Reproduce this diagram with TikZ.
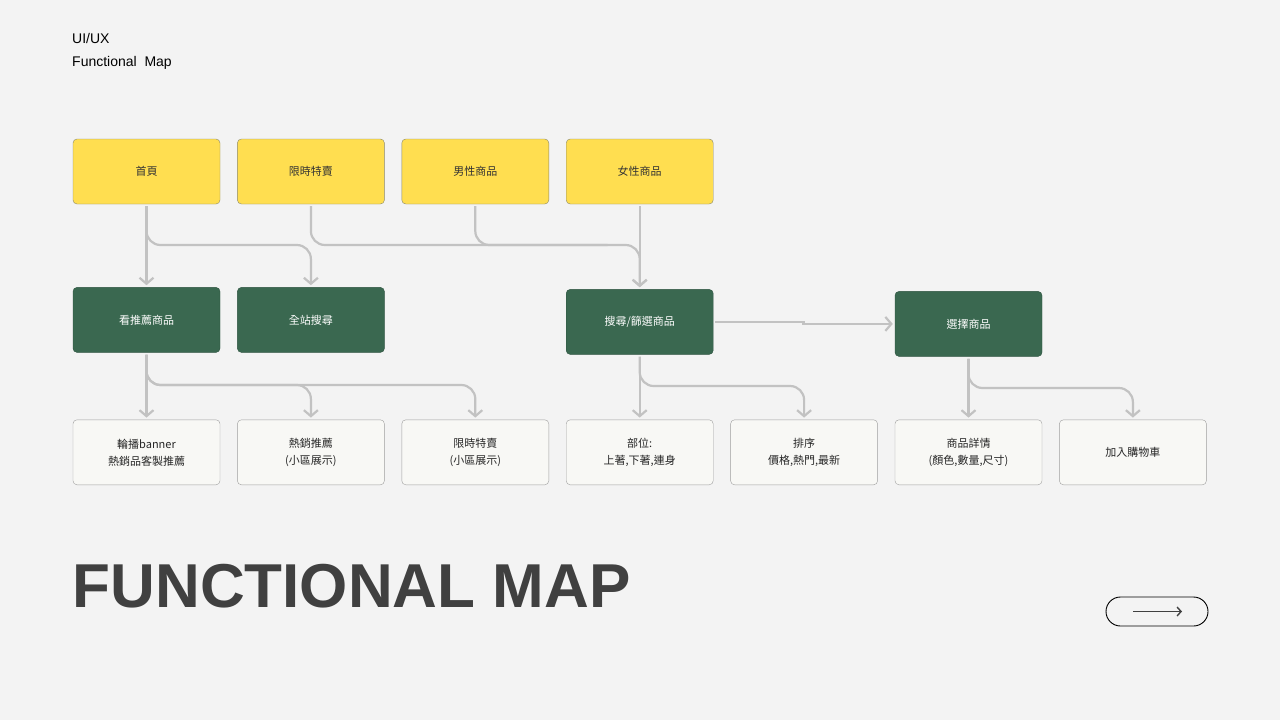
\documentclass[tikz,border=0pt]{standalone}
\usepackage{fontspec}
\setmainfont{Liberation Sans}
\newfontfamily\cjk{Noto Sans CJK TC}
\usepackage{tikz}
\usetikzlibrary{positioning, arrows.meta}
\definecolor{bg}{HTML}{F3F3F3}
\definecolor{topfill}{HTML}{FFDE50}
\definecolor{topline}{HTML}{8A886A}
\definecolor{actfill}{HTML}{3A6850}
\definecolor{leaffill}{HTML}{F8F8F5}
\definecolor{leafline}{HTML}{9E9E9E}
\definecolor{linkgray}{HTML}{C2C2C2}
\definecolor{ink}{HTML}{404040}
\tikzset{
box/.style={rounded corners=4pt, minimum width=147pt, minimum height=65pt, inner sep=2pt, align=center, font=\cjk\fontsize{11}{17}\selectfont}, % common size of every box
top/.style={box, draw=topline, fill=topfill, text=black!80}, % yellow entry pages
act/.style={box, draw=actfill!80!black, fill=actfill, text=white}, % green actions
leaf/.style={box, draw=leafline, fill=leaffill, text=black!85}, % white detail boxes
link/.style={draw=linkgray, line width=2.2pt, -{Straight Barb[length=6pt,width=14pt]}, shorten <=2pt, shorten >=2pt}, % connectors
branch/.style={link, rounded corners=14pt}, % connectors that bend
}

\begin{document}
\begin{tikzpicture}[x=1pt, y=-1pt]
            \fill[bg] (0,0) rectangle (1280,720);
            \useasboundingbox (0,0) rectangle (1280,720);
            \node[anchor=base west, inner sep=0, font=\fontsize{14}{16}\selectfont] (tag) at (72,43) {UI/UX};
            \node[anchor=base west, inner sep=0, font=\fontsize{14}{16}\selectfont] (sub) at (72,66.5) {Functional\ \ Map};

            \node[top] (home) at (146.5,171.5) {首頁};
            \node[top, right=17pt of home] (sale) {限時特賣};
            \node[top, right=17pt of sale] (men) {男性商品};
            \node[top, right=17pt of men] (women) {女性商品};

            \node[act, below=83pt of home] (rec) {看推薦商品};
            \node[act, below=83pt of sale] (site) {全站搜尋};
            \node[act, below=85pt of women] (search) {搜尋/篩選商品};

            \node[leaf, below=67pt of rec] (banner) {輪播banner\\熱銷品客製推薦};
            \node[leaf, right=17pt of banner] (hot) {熱銷推薦\\(小區展示)};
            \node[leaf, right=17pt of hot] (flash) {限時特賣\\(小區展示)};
            \node[leaf, below=65pt of search] (part) {部位:\\上著,下著,連身};
            \node[leaf, right=17pt of part] (sort) {排序\\價格,熱門,最新};
            \node[leaf, right=17pt of sort] (detail) {商品詳情\\(顏色,數量,尺寸)};
            \node[leaf, right=17pt of detail] (cart) {加入購物車};
            \node[act, above=63pt of detail] (pick) {選擇商品};

            \coordinate (bus1) at (0,245);
            \coordinate (bus2) at (0,385);
            \coordinate (bus3) at (0,386);
            \coordinate (bus4) at (0,388);

            \draw[link] (home) edge (rec) (women) edge (search);
            \draw[branch] (home.south) |- (site.north |- bus1) -- (site.north);
            \draw[branch] (sale.south) |- (search.north |- bus1) -- (search.north);
            \draw[branch, -] (men.south) |- ([xshift=-30pt]search.north |- bus1);

            \draw[link] (rec) edge (banner) (search) edge (part) (pick) edge (detail);
            \draw[branch] (rec.south) |- (hot.north |- bus2) -- (hot.north);
            \draw[branch] (rec.south) |- (flash.north |- bus2) -- (flash.north);
            \draw[branch] (search.south) |- (sort.north |- bus3) -- (sort.north);
            \draw[branch] (pick.south) |- (cart.north |- bus4) -- (cart.north);
            \draw[link] (search.east) -- ++(90,0) |- (pick.west);

            \node[anchor=base west, inner sep=0, text=ink, font=\fontsize{62}{62}\selectfont\bfseries] (title) at (72.5,607) {FUNCTIONAL MAP};
            \node[draw=black, line width=0.9pt, rounded corners=14.5pt, minimum width=102pt, minimum height=29pt] (next) at (1157,611.5) {};
            \draw[ink, line width=1.4pt, -{Straight Barb[length=4pt,width=9pt]}] ([xshift=-24pt]next.center) -- ([xshift=25pt]next.center);
        \end{tikzpicture}
\end{document}
